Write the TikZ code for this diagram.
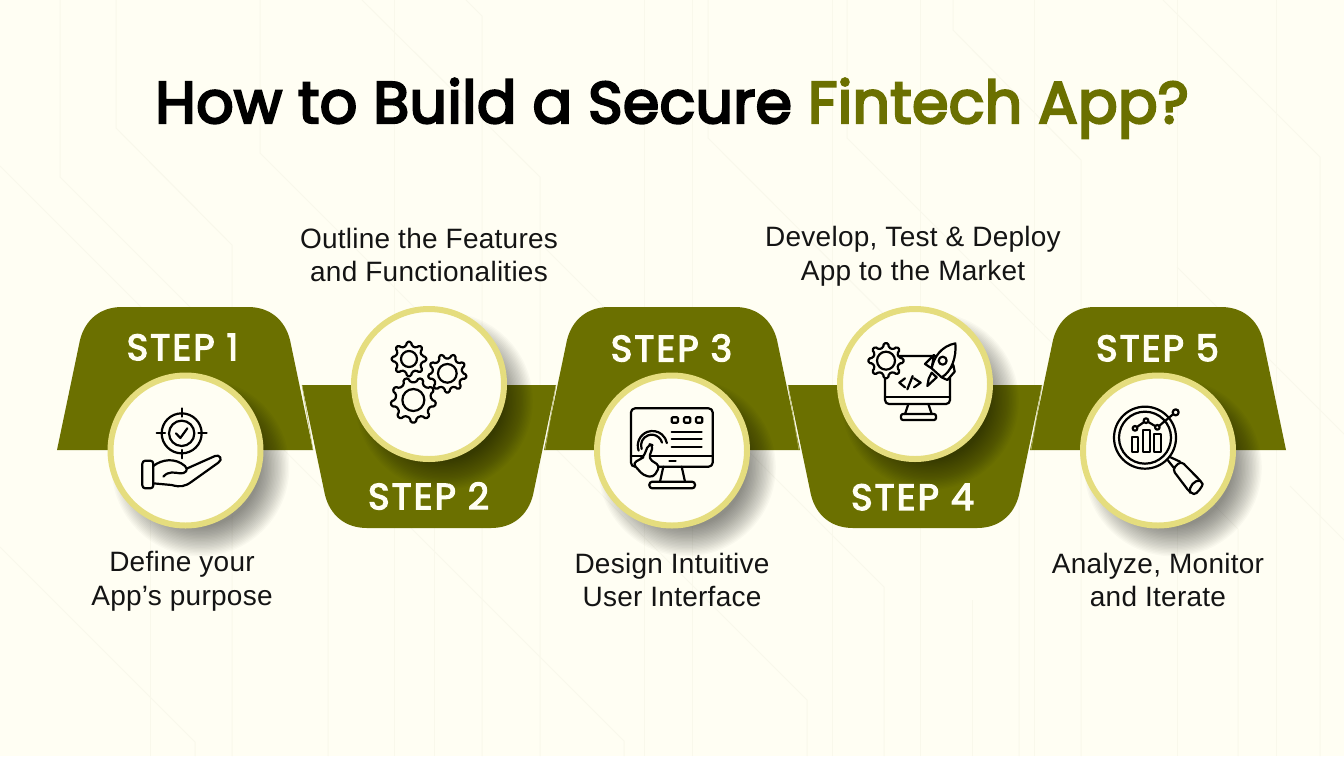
\documentclass[tikz,border=0pt]{standalone}
\usepackage{fontspec}
\newfontfamily\headfont{Poppins}[FakeBold=4,LetterSpace=0.6]
\newfontfamily\stepfont{Poppins}[FakeBold=3.5,LetterSpace=6.0]
\newfontfamily\bodyfont{Liberation Sans}[LetterSpace=0.9]
\definecolor{paper}{HTML}{FFFEF3}
\definecolor{olive}{HTML}{6B7000}
\definecolor{ring}{HTML}{E5DD7E}
\definecolor{faint}{HTML}{F9F8EB}
\definecolor{seam}{HTML}{B5B766}
\tikzset{
  bandfill/.style={fill=olive,draw=none},
  seamline/.style={draw=seam,line width=0.3pt},
  bgline/.style={draw=faint,line width=0.5pt},
  stepcircle/.style={circle,draw=ring,fill=paper,line width=3pt,minimum size=75pt,inner sep=0pt},
  steplabel/.style={text=paper,font=\stepfont\fontsize{18.3}{20}\selectfont},
  caption/.style={align=center,text=black!92,font=\bodyfont\fontsize{14}{16.8}\selectfont},
  ic/.style={draw=black,line width=1.1pt,line join=round,line cap=round},
  zoomed/.style={x=0.16667pt,y=-0.16667pt}
}
% centre x, centre y, tip radius, root radius, hole radius, teeth, offset angle
\newcommand{\gearicon}[7]{%
  \begin{scope}[shift={(#1,#2)}]
    \def\gs{(360/#6)}
    \filldraw[ic,fill=paper,rounded corners=0.7pt]
      ({#7-.27*\gs}:#4)
      \foreach \k in {0,...,\numexpr#6-1\relax}{
        -- ({#7+\k*\gs-.27*\gs}:#4) -- ({#7+\k*\gs-.16*\gs}:#3)
        -- ({#7+\k*\gs+.16*\gs}:#3) -- ({#7+\k*\gs+.27*\gs}:#4)
      } -- cycle;
    \draw[ic] (0,0) circle[radius=#5];
  \end{scope}}
\newcommand{\shadowdisc}[2]{%
  \foreach \k in {1,...,22}{
    \fill[black,opacity=0.024] ({#1+15},{#2+17}) circle[radius={58+\k*1.4}];
  }}
\begin{document}
\begin{tikzpicture}[x=0.5pt,y=-0.5pt]
\useasboundingbox (0,0) rectangle (1344,756);
\fill[paper] (0,0) rectangle (1344,756);
% faint background lines
\draw[bgline] (60,0)--(60,177)--(624,741)--(624,756);
\draw[bgline] (116,0)--(116,128)--(232,245)--(232,756);
\draw[bgline] (260,0)--(260,153)--(807,700)--(807,756);
\draw[bgline] (362,0)--(540,177)--(540,756);
\draw[bgline] (466,0)--(482,16)--(482,756);
\draw[bgline] (0,166)--(328,494)--(328,756);
\draw[bgline] (0,547)--(195,742)--(195,756);
\draw[bgline] (540,243)--(884,587)--(884,756);
\draw[bgline] (708,0)--(708,138)--(1019,450)--(1019,756);
\draw[bgline] (847,0)--(847,138)--(1238,529)--(1238,756);
\draw[bgline] (953,0)--(953,30)--(1081,160)--(1081,756);
\draw[bgline] (1163,0)--(1320,157)--(1320,756);
\draw[bgline] (1177,0)--(1177,756);
\draw[bgline] (1177,267)--(1344,434);
\draw[bgline] (1290,486)--(1344,540);
\foreach \vx/\vy in {150/500,394/0,434/327,644/0,692/0,832/0,920/0,972/600,1034/0,1276/0}{
  \draw[bgline] (\vx,\vy)--(\vx,756);
}
% band shapes: odd steps first, then even steps
\foreach \cx in {185,672,1158}{
  \fill[bandfill] ({\cx-128},450) -- ({\cx-105},340)
     .. controls ({\cx-100},320) and ({\cx-85},307) .. ({\cx-63},307)
     -- ({\cx+63},307)
     .. controls ({\cx+85},307) and ({\cx+100},320) .. ({\cx+105},340)
     -- ({\cx+128},450) -- cycle;
}
\foreach \cx in {429,915}{
  \fill[bandfill] ({\cx-127},385) -- ({\cx+127},385) -- ({\cx+104},495)
     .. controls ({\cx+99},515) and ({\cx+84},528) .. ({\cx+62},528)
     -- ({\cx-62},528)
     .. controls ({\cx-84},528) and ({\cx-99},515) .. ({\cx-104},495)
     -- cycle;
}
\draw[seamline] (302,385)--(313,450);
\draw[seamline] (556,385)--(545,450);
\draw[seamline] (788,385)--(799,450);
\draw[seamline] (1042,385)--(1031,450);
% shadows and discs
\shadowdisc{185.5}{450.5}
\shadowdisc{429}{384}
\shadowdisc{672}{450.5}
\shadowdisc{915}{384}
\shadowdisc{1158}{450.5}
\node[stepcircle] (disc1) at (185.5,450.5) {};
\node[stepcircle] (disc2) at (429,384) {};
\node[stepcircle] (disc3) at (672,450.5) {};
\node[stepcircle] (disc4) at (915,384) {};
\node[stepcircle] (disc5) at (1158,450.5) {};
% title
\node[anchor=base,inner sep=0pt,font=\headfont\fontsize{29.3}{36}\selectfont] (title) at (672,123)
  {How to Build a Secure \textcolor{olive}{Fintech App?}};
% step labels
\node[steplabel] (step1) at (182.5,347) {STEP 1};
\node[steplabel] (step2) at (428.5,496) {STEP 2};
\node[steplabel] (step3) at (671.5,348) {STEP 3};
\node[steplabel] (step4) at (912.5,497) {STEP 4};
\node[steplabel] (step5) at (1157.5,348) {STEP 5};
% captions
\node[caption] (cap1) at (182,581) {Define your\\App’s purpose};
\node[caption] (cap2) at (429,255) {Outline the Features\\and Functionalities};
\node[caption] (cap3) at (672,580) {Design Intuitive\\User Interface};
\node[caption] (cap4) at (913,256) {Develop, Test \& Deploy\\App to the Market};
\node[caption] (cap5) at (1158,580) {Analyze, Monitor\\and Iterate};
% icon 1: target over hand
\begin{scope}[shift={(100,370)},zoomed]
  \draw[ic] (245,190) circle[radius=60];
  \draw[ic] (245,190) circle[radius=38];
  \draw[ic] (245,115)--(245,140) (245,240)--(245,265) (170,190)--(195,190) (295,190)--(320,190);
  \draw[ic] (228,190)--(241,204)--(262,175);
  \draw[ic,rounded corners=1.5pt] (127,272) rectangle (160,355);
  \draw[ic] (160,288) .. controls (185,268) and (225,262) .. (255,288)
     .. controls (268,300) and (255,312) .. (240,310)
     .. controls (225,308) and (205,302) .. (190,320);
  \draw[ic] (262,295) -- (345,258) .. controls (358,252) and (370,268) .. (355,278)
     -- (275,335) .. controls (255,350) and (240,352) .. (215,345) -- (160,340);
\end{scope}
% icon 2: three gears
\begin{scope}[shift={(340,300)},zoomed]
  \gearicon{322}{220}{58}{45}{28}{9}{10}
  \gearicon{207}{177}{52}{40}{24}{8}{0}
  \gearicon{220}{300}{68}{54}{33}{9}{10}
\end{scope}
% icon 3: monitor with touching hand
\begin{scope}[shift={(590,370)},zoomed]
  \draw[ic,rounded corners=2pt] (123,115) rectangle (368,290);
  \draw[ic] (123,258)--(368,258) (238,272)--(257,272);
  \foreach \qx in {245,282,318}{ \draw[ic,rounded corners=.5pt] (\qx,142) rectangle ++(19,16); }
  \draw[ic] (245,185)--(335,185) (245,208)--(335,208) (245,232)--(335,232);
  \draw[ic] (220,290)--(210,335) (275,290)--(285,335);
  \draw[ic,rounded corners=1.5pt] (178,335) rectangle (315,355);
  \draw[ic] (155,237) arc[start angle=160,end angle=345,radius=32];
  \draw[ic] (146,242) arc[start angle=160,end angle=350,radius=44];
  \filldraw[ic,fill=paper,rounded corners=2pt] (176,222) -- (190,226) -- (176,266) -- (210,288)
     -- (190,322) -- (160,316) -- (128,280) -- (150,268) -- (160,262) -- cycle;
\end{scope}
% icon 4: gear, monitor and rocket
\begin{scope}[shift={(830,300)},zoomed]
  \draw[ic,rounded corners=2pt] (165,168) rectangle (360,312);
  \draw[ic] (165,290)--(360,290);
  \draw[ic] (235,312)--(225,342) (295,312)--(305,342);
  \draw[ic,rounded corners=1pt] (213,342) rectangle (318,360);
  \draw[ic] (225,235)--(208,248)--(225,262) (248,228)--(232,268) (252,235)--(272,248)--(252,262);
  \gearicon{168}{182}{53}{40}{27}{8}{0}
  \filldraw[ic,fill=paper] (312,165)--(285,192)--(305,205)--cycle;
  \filldraw[ic,fill=paper] (370,195)--(374,215)--(352,240)--(335,232)--cycle;
  \filldraw[ic,fill=paper] (376,130) .. controls (335,138) and (312,170) .. (305,205)
     -- (335,232) .. controls (365,215) and (380,170) .. (376,130) -- cycle;
  \draw[ic] (338,182) circle[radius=12];
  \filldraw[ic,fill=paper] (305,218)--(320,232)--(292,258)--(296,236)--cycle;
\end{scope}
% icon 5: magnifier with chart
\begin{scope}[shift={(1075,370)},zoomed]
  \draw[ic] (210,203) circle[radius=93];
  \draw[ic] (210,203) circle[radius=78];
  \draw[ic] (172,200) rectangle (190,245);
  \draw[ic] (205,180) rectangle (225,245);
  \draw[ic] (238,192) rectangle (257,245);
  \draw[ic] (180,175)--(213,152)--(247,172)--(300,128);
  \filldraw[ic,fill=paper] (180,175) circle[radius=7];
  \filldraw[ic,fill=paper] (213,152) circle[radius=7];
  \filldraw[ic,fill=paper] (247,172) circle[radius=7];
  \filldraw[ic,fill=paper] (302,127) circle[radius=9];
  \draw[ic] (278,270)--(296,293) (287,262)--(315,275);
  \filldraw[ic,fill=paper,rounded corners=2pt] (292,298)--(318,273)--(376,332)
     .. controls (385,345) and (365,375) .. (345,368) -- cycle;
  \draw[ic] (345,368) .. controls (340,350) and (360,328) .. (376,332);
\end{scope}
\end{tikzpicture}
\end{document}
